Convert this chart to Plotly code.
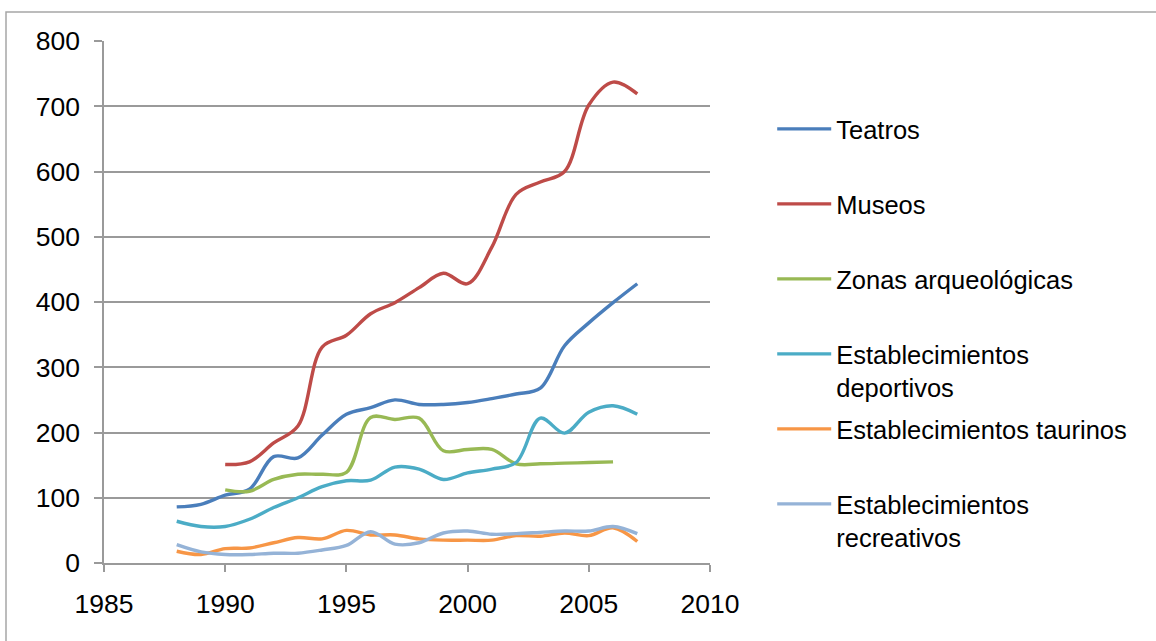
import plotly.graph_objects as go

years_all = list(range(1988, 2008))
years_90 = list(range(1990, 2008))
years_90_06 = list(range(1990, 2007))

teatros = [86, 90, 104, 113, 163, 161, 196, 228, 238, 250, 243, 243, 246, 252, 259, 268, 333, 368, 399, 428]
museos = [151, 155, 184, 210, 331, 349, 382, 399, 422, 444, 428, 484, 565, 584, 600, 702, 737, 719]
zonas = [112, 110, 128, 136, 136, 139, 223, 220, 222, 172, 174, 174, 152, 152, 153, 154, 155]
deportivos = [64, 56, 56, 67, 85, 100, 117, 126, 127, 147, 144, 128, 138, 144, 154, 222, 199, 231, 241, 228]
taurinos = [18, 13, 22, 23, 31, 39, 37, 50, 43, 43, 37, 35, 35, 35, 42, 41, 46, 42, 54, 33]
recreativos = [28, 17, 13, 13, 15, 15, 20, 27, 48, 29, 31, 46, 49, 44, 45, 47, 49, 49, 56, 45]

names = ["Teatros", "Museos", "Zonas arqueológicas", "Establecimientos<br>deportivos",
         "Establecimientos taurinos", "Establecimientos<br>recreativos"]
colors = ["#4A7EBB", "#BE4B48", "#98B954", "#4BACC6", "#F79646", "#95B3D7"]
xs = [years_all, years_90, years_90_06, years_all, years_all, years_all]
ys = [teatros, museos, zonas, deportivos, taurinos, recreativos]

x_ticks = [1985, 1990, 1995, 2000, 2005, 2010]

FONT = "Liberation Sans, Arial, sans-serif"
FS = 26.5
LFS = 25.5
GRID = "#9A9A9A"

fig = go.Figure()
for i, (n, c, x, y) in enumerate(zip(names, colors, xs, ys)):
    label = n if "<br>" in n else n + "<br>\u00a0"
    fig.add_trace(go.Scatter(
        x=x, y=y, name=label, mode="lines",
        line=dict(color=c, width=3.4, shape="spline", smoothing=1.0),
        legendgroup=f"g{i}",
    ))

fig.update_layout(
    width=1156, height=641,
    margin=dict(l=104, r=446, t=41, b=78),
    paper_bgcolor="white", plot_bgcolor="white",
    font=dict(family=FONT, size=FS, color="black"),
    showlegend=True,
    legend=dict(
        xref="container", yref="container",
        x=0.668, y=0.835, xanchor="left", yanchor="top",
        font=dict(family=FONT, size=LFS, color="black"),
        valign="top", tracegroupgap=5.7, itemwidth=54,
        maxheight=620,
        bgcolor="rgba(0,0,0,0)",
    ),
    xaxis=dict(
        range=[1985, 2010], tickvals=x_ticks, ticktext=[str(v) for v in x_ticks],
        showgrid=False, zeroline=False,
        showline=True, linecolor=GRID, linewidth=1.5,
        ticks="outside", ticklen=7, tickcolor=GRID, tickwidth=1.5,
        ticklabelstandoff=9,
    ),
    yaxis=dict(
        range=[0, 800], dtick=100,
        showgrid=True, gridcolor=GRID, gridwidth=1.5, zeroline=False,
        showline=True, linecolor=GRID, linewidth=1.5,
        ticks="outside", ticklen=8, tickcolor=GRID, tickwidth=1.5,
        ticklabelstandoff=9,
    ),
    shapes=[dict(
        type="rect", xref="paper", yref="paper",
        x0=(6 - 104) / 606, x1=(1170 - 104) / 606,
        y0=(563 - 660) / 522, y1=(563 - 12) / 522,
        line=dict(color="#A6A6A6", width=1.5), fillcolor="rgba(0,0,0,0)", layer="below",
    )],
)

fig.write_html("out.html")
